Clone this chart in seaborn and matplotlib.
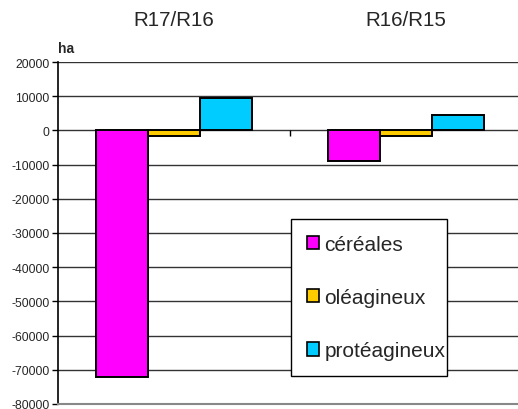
import matplotlib
matplotlib.use("Agg")
import matplotlib.pyplot as plt
import seaborn as sns
import pandas as pd
from matplotlib.patches import Patch

periods = ["R17/R16", "R16/R15"]
cultures = ["céréales", "oléagineux", "protéagineux"]
cereales = [-72200, -8900]
oleagineux = [-1500, -1700]
proteagineux = [9500, 4400]
colors = ["#FF00FF", "#FFCC00", "#00CCFF"]
yticks = list(range(-80000, 20001, 10000))

rows = []
for i, p in enumerate(periods):
    for c, vals in zip(cultures, [cereales, oleagineux, proteagineux]):
        rows.append({"period": p, "culture": c, "value": vals[i]})
df = pd.DataFrame(rows)

sns.set_theme(style="white")
plt.rcParams["font.family"] = ["Liberation Sans", "DejaVu Sans"]

fig = plt.figure(figsize=(5.18, 4.10), dpi=100)
ax = fig.add_axes([58/518, 5/410, 464/518, 342/410])

sns.barplot(data=df, x="period", y="value", hue="culture", order=periods,
            hue_order=cultures, palette=colors, width=0.67, saturation=1,
            edgecolor="black", linewidth=1.4, ax=ax, legend=False, zorder=3)

ax.set_ylim(-80000, 20000)
ax.set_xlim(-0.5, 1.5)
ax.set_yticks(yticks)
ax.set_yticklabels([str(v) for v in yticks], fontsize=8.7)
ax.yaxis.grid(True, color="#333333", linewidth=1.0, zorder=0)
ax.set_axisbelow(True)
ax.tick_params(axis="y", length=4, width=1, color="black", left=True, pad=2)

ax.xaxis.tick_top()
ax.set_xticks(range(len(periods)))
ax.set_xticklabels(periods, fontsize=14.8)
ax.tick_params(axis="x", length=0, pad=24)
ax.set_xlabel("")
ax.set_ylabel("")

for s in ["top", "right"]:
    ax.spines[s].set_visible(False)
ax.spines["left"].set_color("black")
ax.spines["left"].set_linewidth(1.2)
ax.spines["bottom"].set_color("#888888")
ax.spines["bottom"].set_linewidth(1.5)

ax.vlines(0.5, -1700, 0, color="black", linewidth=1, zorder=2)

fig.text(58/518, 1 - 49/410, "ha", fontsize=10, fontweight="bold", va="center")

handles = [Patch(facecolor=c, edgecolor="black", linewidth=1.2) for c in colors]
leg = ax.legend(handles, cultures, loc="lower left",
                bbox_to_anchor=((291-58)/464, (405-377)/342, (447-291)/464, (377-219)/342),
                mode="expand", fontsize=15, frameon=True, fancybox=False,
                edgecolor="black", handlelength=0.6, handleheight=0.6,
                handletextpad=0.25, labelspacing=1.65, borderpad=0.75,
                borderaxespad=0)
leg.get_frame().set_linewidth(1.0)
leg.get_frame().set_alpha(1)

fig.savefig("out.png", dpi=100)
